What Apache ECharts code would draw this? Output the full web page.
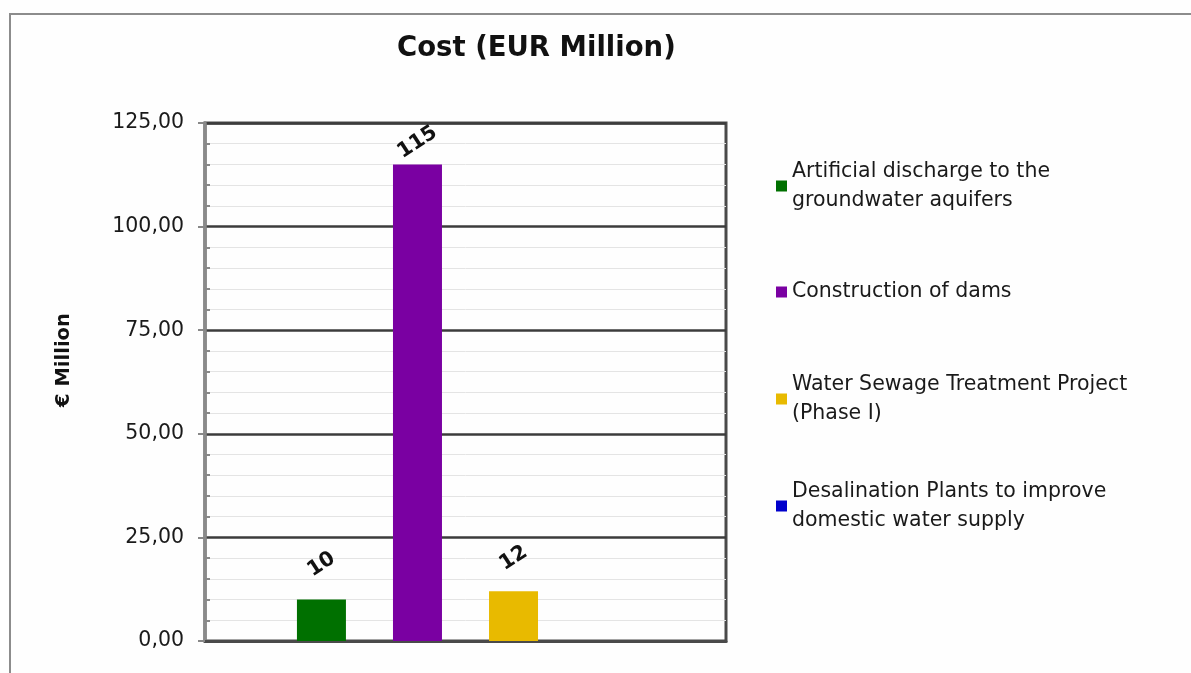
<!DOCTYPE html>
<html>
<head>
    <meta charset="utf-8">
    <title>Cost (EUR Million)</title>
    <script src="https://cdn.jsdelivr.net/npm/echarts@6/dist/echarts.min.js"></script>
    <style>
        html, body { margin: 0; padding: 0; background: #fff; }
    </style>
</head>
<body>
    <div id="main" style="width: 1191px;height:673px;"></div>
    <script type="text/javascript">
        // data
        var categories = [''];
        var seriesNames = [
            'Artificial discharge to the groundwater aquifers',
            'Construction of dams',
            'Water Sewage Treatment Project (Phase I)',
            'Desalination Plants to improve domestic water supply'
        ];
        var legendLines = [
            'Artificial discharge to the\ngroundwater aquifers',
            'Construction of dams',
            'Water Sewage Treatment Project\n(Phase I)',
            'Desalination Plants to improve\ndomestic water supply'
        ];
        var costValues = [10, 115, 12, 0];
        var seriesColors = ['#007000', '#7a00a2', '#e8ba00', '#0000cc'];
        var yMin = 0, yMax = 125, yStep = 25;

        var font = 'DejaVu Sans';
        var labelGap = [35, 22, 33, 30];
        var legendTop = [142.5, 277.5, 355.5, 462.5];

        var myChart = echarts.init(document.getElementById('main'));

        var series = seriesNames.map(function (name, i) {
            return {
                name: name,
                type: 'bar',
                yAxisIndex: 0,
                data: [costValues[i]],
                barWidth: 49,
                barGap: '96%',
                itemStyle: { color: seriesColors[i] },
                label: {
                    show: costValues[i] > 0,
                    position: 'top',
                    distance: labelGap[i],
                    rotate: 33,
                    align: 'center',
                    verticalAlign: 'middle',
                    fontFamily: font,
                    fontWeight: 'bold',
                    fontSize: 20.5,
                    color: '#111'
                }
            };
        });

        var legends = seriesNames.map(function (name, i) {
            var twoLines = legendLines[i].indexOf('\n') >= 0;
            return {
                data: [name],
                orient: 'vertical',
                left: 776,
                top: legendTop[i],
                padding: 0,
                icon: 'rect',
                itemWidth: 11,
                itemHeight: 11,
                selectedMode: false,
                formatter: function () { return legendLines[i]; },
                textStyle: {
                    fontFamily: font,
                    fontSize: 20.5,
                    color: '#1a1a1a',
                    lineHeight: 29,
                    padding: twoLines ? [29, 0, 0, 0] : 0
                }
            };
        });

        var yLabel = function (v) { return v.toFixed(2).replace('.', ','); };

        myChart.setOption({
            backgroundColor: '#fefefe',
            animation: false,
            title: {
                text: 'Cost (EUR Million)',
                left: 397,
                top: 35,
                padding: 0,
                textStyle: { fontFamily: font, fontWeight: 'bold', fontSize: 27.5, color: '#111' }
            },
            legend: legends,
            grid: {
                left: 205, top: 123, right: 465, bottom: 32,
                show: true, borderColor: '#4a4a4a', borderWidth: 3
            },
            xAxis: {
                type: 'category',
                data: categories,
                axisLine: { show: true, lineStyle: { color: '#4a4a4a', width: 3 } },
                axisTick: { show: false },
                axisLabel: { show: false }
            },
            yAxis: [{
                type: 'value',
                min: yMin, max: yMax, interval: yStep,
                name: '€ Million',
                nameLocation: 'middle',
                nameRotate: 90,
                nameGap: 131,
                nameTextStyle: { fontFamily: font, fontWeight: 'bold', fontSize: 19.5, color: '#111', padding: [0, 0, 0, 44] },
                axisLine: { show: true, lineStyle: { color: '#8a8a8a', width: 3.5 } },
                axisTick: { show: true, length: 7, lineStyle: { color: '#888', width: 2 } },
                axisLabel: { margin: 21, formatter: yLabel, fontFamily: font, fontSize: 20.5, color: '#1a1a1a' },
                splitLine: { show: true, lineStyle: { color: '#3c3c3c', width: 2.5 } },
                minorTick: { show: false },
                minorSplitLine: { show: true, lineStyle: { color: '#e4e4e4', width: 1 } }
            }, {
                // inner minor ticks only
                type: 'value',
                position: 'left',
                min: yMin, max: yMax, interval: yStep,
                axisLine: { show: false },
                axisTick: { show: true, inside: true, length: 0 },
                axisLabel: { show: false },
                splitLine: { show: false },
                minorTick: { show: true, splitNumber: 5, length: 5, lineStyle: { color: '#888', width: 2 } }
            }],
            graphic: [{
                type: 'rect',
                silent: true,
                z: -1,
                shape: { x: 10, y: 14, width: 1400, height: 900 },
                style: { fill: 'none', stroke: '#8c8c8c', lineWidth: 2 }
            }],
            series: series
        });
    </script>
</body>
</html>
